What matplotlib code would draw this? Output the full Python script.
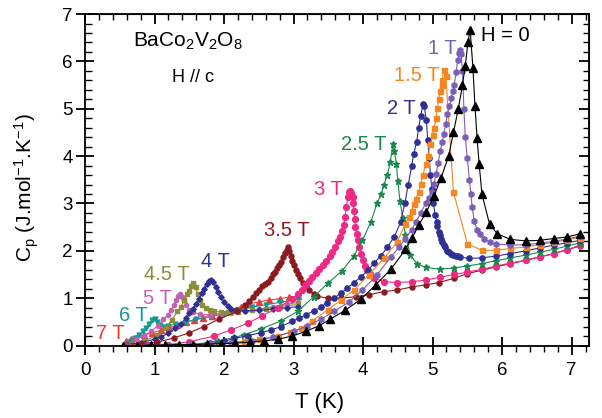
import matplotlib
matplotlib.use('Agg')
from matplotlib import pyplot as plt
from matplotlib.ticker import MultipleLocator

plt.rcParams['font.family'] = ['Liberation Sans', 'DejaVu Sans']
plt.rcParams['mathtext.fontset'] = 'custom'
plt.rcParams['mathtext.rm'] = 'Liberation Sans'
plt.rcParams['mathtext.it'] = 'Liberation Sans'

# specific heat of BaCo2V2O8, H // c, one sweep per field
T_0 = [0.55, 0.75, 0.95, 1.15, 1.35, 1.56, 1.76, 1.96, 2.16, 2.38, 2.58, 2.77, 2.98, 3.18,
       3.37, 3.53, 3.74, 3.97, 4.18, 4.40, 4.61, 4.71, 4.80, 4.91, 5.02, 5.12, 5.23, 5.30,
       5.37, 5.43, 5.47, 5.51, 5.54, 5.58, 5.61, 5.64, 5.67, 5.71, 5.82, 5.93, 6.12, 6.34,
       6.54, 6.74, 6.93, 7.12]
Cp_0 = [0.0, 0.0, 0.01, 0.01, 0.02, 0.02, 0.03, 0.04, 0.05, 0.07, 0.10, 0.13, 0.20, 0.30,
        0.42, 0.56, 0.74, 0.98, 1.28, 1.61, 2.03, 2.28, 2.54, 2.82, 3.16, 3.53, 4.00, 4.50,
        5.00, 5.50, 5.91, 6.42, 6.67, 5.87, 5.05, 4.38, 3.83, 3.20, 2.56, 2.36, 2.24, 2.21,
        2.22, 2.26, 2.29, 2.36]

T_1 = [0.6, 0.9, 1.2, 1.5, 1.8, 2.1, 2.4, 2.7, 3.0, 3.2, 3.39, 3.58, 3.80, 3.99, 4.2, 4.40,
       4.52, 4.61, 4.70, 4.76, 4.83, 4.90, 4.95, 4.99, 5.02, 5.05, 5.08, 5.11, 5.14, 5.16,
       5.19, 5.21, 5.24, 5.27, 5.29, 5.31, 5.34, 5.36, 5.38, 5.39, 5.41, 5.43, 5.45, 5.47,
       5.50, 5.53, 5.55, 5.57, 5.60, 5.64, 5.68, 5.74, 5.82, 5.91, 6.12, 6.34, 6.54, 6.74,
       6.93, 7.12]
Cp_1 = [0.0, 0.0, 0.01, 0.02, 0.04, 0.06, 0.10, 0.17, 0.30, 0.41, 0.55, 0.72, 0.92, 1.17,
        1.49, 1.87, 2.08, 2.26, 2.45, 2.60, 2.80, 3.00, 3.12, 3.24, 3.42, 3.62, 3.86, 4.11,
        4.30, 4.46, 4.67, 4.88, 5.05, 5.23, 5.37, 5.50, 5.78, 6.03, 6.18, 6.25, 6.15, 5.80,
        5.00, 4.40, 3.95, 3.50, 3.20, 2.92, 2.62, 2.45, 2.36, 2.26, 2.18, 2.14, 2.12, 2.13,
        2.16, 2.20, 2.25, 2.31]

T_15 = [0.6, 0.9, 1.2, 1.5, 1.8, 2.1, 2.29, 2.5, 2.77, 2.95, 3.1, 3.27, 3.49, 3.68, 3.87,
        4.08, 4.3, 4.49, 4.61, 4.66, 4.70, 4.73, 4.76, 4.80, 4.83, 4.86, 4.90, 4.93, 4.97,
        5.00, 5.02, 5.05, 5.07, 5.09, 5.11, 5.13, 5.14, 5.16, 5.19, 5.30, 5.50, 5.71, 5.91,
        6.12, 6.34, 6.54, 6.74, 6.93, 7.12]
Cp_15 = [0.0, 0.0, 0.01, 0.02, 0.03, 0.05, 0.09, 0.13, 0.20, 0.28, 0.36, 0.52, 0.75, 0.96,
         1.17, 1.49, 1.84, 2.19, 2.57, 2.72, 2.85, 2.98, 3.10, 3.25, 3.41, 3.60, 3.83, 4.00,
         4.25, 4.45, 4.60, 4.80, 5.02, 5.20, 5.37, 5.50, 5.61, 5.81, 5.70, 3.24, 2.15, 2.01,
         2.01, 2.05, 2.08, 2.13, 2.18, 2.23, 2.28]

T_2 = [0.6, 0.9, 1.2, 1.5, 1.8, 2.0, 2.15, 2.34, 2.53, 2.68, 2.82, 2.98, 3.08, 3.18, 3.29,
       3.39, 3.48, 3.58, 3.68, 3.77, 3.87, 3.97, 4.07, 4.16, 4.26, 4.35, 4.45, 4.54, 4.60,
       4.65, 4.70, 4.73, 4.77, 4.80, 4.83, 4.86, 4.88, 4.91, 4.93, 4.95, 4.97, 4.99, 5.01,
       5.04, 5.06, 5.07, 5.09, 5.10, 5.12, 5.14, 5.16, 5.18, 5.21, 5.23, 5.26, 5.29, 5.33,
       5.36, 5.40, 5.52, 5.71, 5.91, 6.12, 6.34, 6.54, 6.74, 6.93, 7.12]
Cp_2 = [0.0, 0.0, 0.01, 0.02, 0.05, 0.09, 0.15, 0.21, 0.27, 0.33, 0.40, 0.51, 0.58, 0.65,
        0.73, 0.81, 0.90, 1.00, 1.10, 1.21, 1.33, 1.45, 1.59, 1.74, 1.90, 2.08, 2.30, 2.60,
        3.00, 3.40, 3.80, 4.05, 4.30, 4.60, 4.85, 5.09, 5.05, 4.77, 4.35, 3.97, 3.60, 3.30,
        3.00, 2.75, 2.60, 2.52, 2.40, 2.33, 2.25, 2.18, 2.12, 2.07, 2.00, 1.97, 1.94, 1.91,
        1.89, 1.88, 1.87, 1.84, 1.85, 1.89, 1.94, 2.00, 2.06, 2.12, 2.17, 2.22]

T_25 = [0.6, 0.9, 1.2, 1.57, 1.91, 2.15, 2.29, 2.53, 2.82, 3.06, 3.29, 3.49, 3.70, 3.87,
        3.99, 4.11, 4.20, 4.26, 4.30, 4.35, 4.39, 4.43, 4.45, 4.48, 4.50, 4.53, 4.57, 4.61,
        4.68, 4.78, 4.90, 5.11, 5.31, 5.50, 5.71, 5.91, 6.12, 6.34, 6.54, 6.74, 6.93, 7.12]
Cp_25 = [0.0, 0.0, 0.01, 0.02, 0.10, 0.17, 0.23, 0.35, 0.52, 0.72, 1.03, 1.31, 1.58, 1.90,
         2.22, 2.60, 3.00, 3.20, 3.40, 3.60, 3.87, 4.25, 4.11, 3.83, 3.48, 3.06, 2.70, 2.33,
         1.91, 1.72, 1.65, 1.61, 1.64, 1.68, 1.73, 1.79, 1.85, 1.91, 1.97, 2.03, 2.10, 2.17]

T_3 = [0.6, 0.9, 1.2, 1.5, 1.86, 2.1, 2.34, 2.55, 2.77, 2.98, 3.06, 3.12, 3.17, 3.22, 3.27,
       3.32, 3.37, 3.42, 3.47, 3.52, 3.56, 3.60, 3.64, 3.67, 3.70, 3.72, 3.74, 3.76, 3.78,
       3.80, 3.81, 3.83, 3.85, 3.86, 3.87, 3.88, 3.89, 3.91, 3.92, 3.94, 3.97, 4.00, 4.03,
       4.06, 4.10, 4.16, 4.30, 4.49, 4.71, 4.90, 5.10, 5.31, 5.50, 5.71, 5.91, 6.12, 6.34,
       6.54, 6.74, 6.93, 7.12]
Cp_3 = [0.0, 0.01, 0.02, 0.08, 0.20, 0.33, 0.47, 0.63, 0.79, 0.99, 1.08, 1.18, 1.28, 1.36,
        1.45, 1.54, 1.62, 1.70, 1.79, 1.88, 1.97, 2.08, 2.20, 2.30, 2.42, 2.55, 2.71, 2.92,
        3.13, 3.24, 3.27, 3.22, 3.13, 3.00, 2.85, 2.68, 2.50, 2.36, 2.22, 2.08, 1.94, 1.80,
        1.68, 1.59, 1.50, 1.42, 1.35, 1.33, 1.35, 1.38, 1.44, 1.50, 1.55, 1.61, 1.68, 1.74,
        1.80, 1.87, 1.94, 2.02, 2.12]

T_35 = [0.6, 0.8, 1.04, 1.28, 1.5, 1.71, 1.93, 2.19, 2.30, 2.36, 2.41, 2.46, 2.50, 2.55,
        2.59, 2.63, 2.67, 2.70, 2.73, 2.76, 2.79, 2.82, 2.85, 2.88, 2.90, 2.92, 2.94, 2.96,
        2.98, 3.00, 3.03, 3.06, 3.09, 3.13, 3.18, 3.22, 3.29, 3.34, 3.49, 3.68, 3.90, 4.08,
        4.30, 4.49, 4.71, 4.90, 5.09, 5.31, 5.50, 5.71, 5.91, 6.12, 6.34, 6.54, 6.74, 6.93,
        7.12]
Cp_35 = [0.02, 0.04, 0.07, 0.16, 0.27, 0.40, 0.56, 0.72, 0.85, 0.95, 1.02, 1.10, 1.17, 1.25,
         1.30, 1.35, 1.43, 1.50, 1.56, 1.63, 1.70, 1.77, 1.86, 1.95, 2.01, 2.07, 2.00, 1.88,
         1.78, 1.70, 1.60, 1.52, 1.42, 1.31, 1.25, 1.17, 1.09, 1.04, 1.00, 1.00, 1.03, 1.07,
         1.14, 1.17, 1.24, 1.28, 1.33, 1.42, 1.52, 1.59, 1.66, 1.73, 1.80, 1.87, 1.94, 2.02,
         2.10]

T_4 = [0.61, 0.8, 1.0, 1.1, 1.2, 1.3, 1.38, 1.45, 1.5, 1.55, 1.6, 1.64, 1.68, 1.71, 1.75,
       1.78, 1.81, 1.84, 1.88, 1.91, 1.95, 2.0, 2.05, 2.1, 2.17, 2.3, 2.5, 2.7, 2.9, 3.07]
Cp_4 = [0.02, 0.06, 0.13, 0.19, 0.26, 0.36, 0.45, 0.58, 0.68, 0.78, 0.88, 0.98, 1.10, 1.20,
        1.30, 1.36, 1.39, 1.35, 1.24, 1.13, 1.02, 0.92, 0.84, 0.78, 0.74, 0.73, 0.74, 0.77,
        0.80, 0.82]

T_45 = [0.66, 0.85, 1.04, 1.16, 1.25, 1.33, 1.38, 1.43, 1.47, 1.50, 1.53, 1.56, 1.59, 1.62,
        1.65, 1.69, 1.74, 1.80, 1.86, 1.95, 2.05, 2.2, 2.4, 2.6, 2.8, 3.07]
Cp_45 = [0.02, 0.09, 0.22, 0.38, 0.54, 0.72, 0.82, 0.96, 1.08, 1.16, 1.26, 1.33, 1.24, 1.08,
         0.96, 0.86, 0.79, 0.75, 0.72, 0.71, 0.70, 0.71, 0.74, 0.78, 0.82, 0.87]

T_5 = [0.6, 0.73, 0.85, 0.95, 1.05, 1.12, 1.19, 1.24, 1.28, 1.31, 1.34, 1.36, 1.39, 1.42,
       1.46, 1.50, 1.56, 1.65, 1.8, 1.95, 2.1, 2.3, 2.5, 2.7, 2.9, 3.07]
Cp_5 = [0.03, 0.13, 0.21, 0.30, 0.42, 0.55, 0.64, 0.74, 0.86, 0.96, 1.05, 1.09, 1.02, 0.96,
        0.85, 0.76, 0.70, 0.66, 0.65, 0.66, 0.69, 0.73, 0.77, 0.82, 0.87, 0.91]

T_6 = [0.6, 0.66, 0.72, 0.78, 0.84, 0.88, 0.92, 0.96, 1.0, 1.04, 1.08, 1.13, 1.2, 1.3,
       1.45, 1.6, 1.8, 2.0, 2.2, 2.4, 2.6, 2.8, 3.07]
Cp_6 = [0.05, 0.10, 0.16, 0.22, 0.30, 0.38, 0.46, 0.53, 0.57, 0.50, 0.43, 0.40, 0.41, 0.45,
        0.50, 0.55, 0.61, 0.67, 0.74, 0.81, 0.86, 0.91, 0.98]

T_7 = [0.59, 0.66, 0.73, 0.85, 0.97, 1.09, 1.21, 1.33, 1.45, 1.57, 1.70, 1.83, 1.95, 2.10,
       2.24, 2.36, 2.50, 2.65, 2.80, 2.94, 3.07]
Cp_7 = [0.09, 0.13, 0.16, 0.22, 0.27, 0.32, 0.37, 0.43, 0.49, 0.54, 0.59, 0.63, 0.68, 0.75,
        0.82, 0.88, 0.92, 0.96, 0.99, 1.02, 1.05]

# (T, Cp, colour, marker, marker size, label, label x, label y)
curves = [
    (T_7, Cp_7, '#ee3b36', '^', 4.0, '7 T', 0.16, 0.25),
    (T_6, Cp_6, '#139a94', 'v', 3.5, '6 T', 0.49, 0.63),
    (T_5, Cp_5, '#c660b4', 'o', 3.0, '5 T', 0.83, 0.99),
    (T_45, Cp_45, '#8e8c38', 's', 2.8, '4.5 T', 0.85, 1.50),
    (T_4, Cp_4, '#2e3192', 'D', 2.8, '4 T', 1.67, 1.78),
    (T_35, Cp_35, '#8b1a1e', 'o', 3.6, '3.5 T', 2.57, 2.43),
    (T_3, Cp_3, '#ee2a84', 'o', 4.2, '3 T', 3.29, 3.30),
    (T_25, Cp_25, '#17894a', '*', 5.0, '2.5 T', 3.68, 4.25),
    (T_2, Cp_2, '#2e3192', 'o', 3.8, '2 T', 4.35, 5.01),
    (T_15, Cp_15, '#f6861f', 's', 3.6, '1.5 T', 4.44, 5.71),
    (T_1, Cp_1, '#7a5fb6', 'h', 4.0, '1 T', 4.93, 6.28),
    (T_0, Cp_0, '#000000', '^', 6.0, 'H = 0', 5.69, 6.55),
]

fig = plt.figure(figsize=(6.02, 4.18), dpi=100)
ax = fig.add_axes([0.1412, 0.1734, 0.8372, 0.793])

for T, Cp, color, marker, ms, label, lx, ly in curves:
    ax.plot(T, Cp, color=color, lw=0.8, marker=marker, ms=ms, mec=color, mfc=color)
    ax.text(lx, ly, label, color=color, fontsize=14.5, ha='left', va='center')

ax.text(0.69, 6.42, r'BaCo$_\mathregular{2}$V$_\mathregular{2}$O$_\mathregular{8}$',
        fontsize=15, ha='left', va='center')
ax.text(1.25, 5.67, 'H // c', fontsize=13, ha='left', va='center')

ax.set_xlim(0, 7.25)
ax.set_ylim(0, 7)
ax.xaxis.set_major_locator(MultipleLocator(1))
ax.xaxis.set_minor_locator(MultipleLocator(0.2))
ax.yaxis.set_major_locator(MultipleLocator(1))
ax.yaxis.set_minor_locator(MultipleLocator(0.2))

for side in ['top', 'right', 'bottom', 'left']:
    ax.spines[side].set_linewidth(1.3)

ax.tick_params(axis='x', which='major', direction='inout', length=13, width=1.3,
               labelsize=13.5, pad=5.5)
ax.tick_params(axis='x', which='minor', direction='out', length=4.5, width=1.0)
ax.tick_params(axis='y', which='major', direction='inout', length=13, width=1.3,
               labelsize=13.5, pad=2.5)
ax.tick_params(axis='y', which='minor', direction='in', length=5, width=1.0)

# inward ticks on the top and right edges
top = ax.secondary_xaxis('top')
top.xaxis.set_major_locator(MultipleLocator(1))
top.xaxis.set_minor_locator(MultipleLocator(0.2))
top.tick_params(which='major', direction='in', length=7, width=1.3, labeltop=False)
top.tick_params(which='minor', direction='in', length=4, width=1.0)
right = ax.secondary_yaxis('right')
right.yaxis.set_major_locator(MultipleLocator(1))
right.yaxis.set_minor_locator(MultipleLocator(0.2))
right.tick_params(which='major', direction='in', length=7, width=1.3, labelright=False)
right.tick_params(which='minor', direction='in', length=4, width=1.0)

ax.set_xlabel('T (K)', fontsize=16)
ax.set_ylabel(r'C$_\mathregular{p}$ (J.mol$^\mathregular{-1}$.K$^\mathregular{-1}$)', fontsize=15)
ax.xaxis.set_label_coords(0.465, -0.14)
ax.yaxis.set_label_coords(-0.087, 0.475)

fig.savefig('out.png', dpi=100)
